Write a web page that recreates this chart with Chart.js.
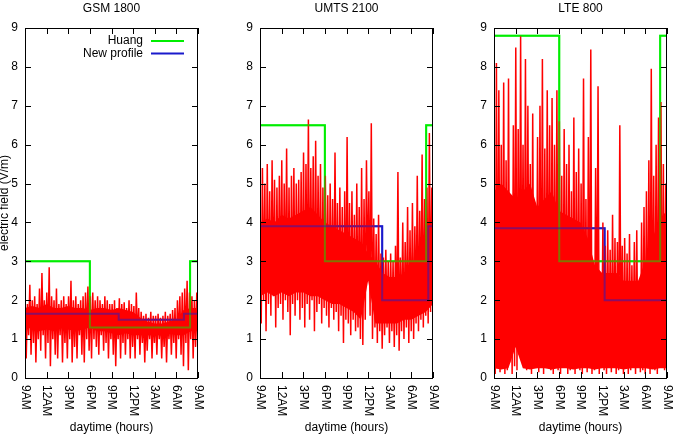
<!DOCTYPE html>
<html>
<head>
<meta charset="utf-8">
<script src="https://cdn.jsdelivr.net/npm/chart.js@4.4.0/dist/chart.umd.min.js"></script>
<style>
  body { margin: 0; background: #fff; overflow: hidden; }
  canvas { position: absolute; top: 0; }
</style>
</head>
<body>
<canvas id="gsm" width="206" height="438" style="left:0px"></canvas>
<canvas id="umts" width="206" height="438" style="left:235px"></canvas>
<canvas id="lte" width="206" height="438" style="left:469px"></canvas>
<script>
const hourTicks = [0, 3, 6, 9, 12, 15, 18, 21, 24];
const hourLabels = ['9AM', '12AM', '3PM', '6PM', '9PM', '12PM', '3AM', '6AM', '9AM'];

// measured field (V/m), 20 minute bins from 9AM: highest and lowest sample of each bin
const gsmHigh = [
  2.2, 1.9, 2.4, 2.0, 2.1, 1.9, 2.3, 2.7, 2.0,
  2.2, 2.85, 2.1, 2.0, 2.3, 1.9, 2.0, 2.1, 1.9,
  2.1, 2.5, 2.0, 2.1, 1.9, 2.0, 2.1, 2.2, 2.35,
  2.1, 2.2, 2.0, 2.1, 2.0, 1.9, 2.1, 2.0, 1.9,
  1.9, 2.0, 1.8, 2.05, 1.9, 1.95, 1.8, 2.0, 1.9,
  1.85, 2.2, 1.8, 1.7, 1.6, 1.65, 1.55, 1.7, 1.6,
  1.6, 1.65, 1.55, 1.6, 1.7, 1.6, 1.65, 1.75, 1.8,
  2.0, 2.1, 2.2, 2.3, 2.5, 2.2, 2.1, 2.0, 2.2
];
const gsmLow = [
  0.5, 1.1, 0.6, 0.9, 0.4, 1.0, 0.7, 1.1, 0.5,
  0.9, 0.3, 1.0, 0.6, 0.5, 1.1, 0.4, 0.9, 0.5,
  1.0, 0.4, 0.8, 0.5, 1.1, 0.6, 0.4, 1.0, 0.7,
  0.5, 1.0, 0.8, 0.6, 1.1, 0.7, 0.9, 0.5, 1.0,
  0.6, 0.3, 1.0, 0.5, 0.9, 0.6, 1.0, 0.5, 0.8,
  0.5, 1.0, 0.6, 0.9, 0.4, 0.7, 1.0, 0.5, 0.9,
  0.6, 1.0, 0.5, 0.8, 0.4, 1.0, 0.6, 0.9, 0.5,
  1.0, 0.6, 0.3, 0.9, 0.2, 1.0, 0.5, 0.8, 0.6
];
// dense part of the trace, hourly from 9AM to 9AM
const gsmCoreTop = [1.8, 1.85, 1.8, 1.9, 1.8, 1.8, 1.85, 1.8, 1.8, 1.75, 1.8, 1.8, 1.75,
  1.8, 1.75, 1.7, 1.55, 1.45, 1.4, 1.4, 1.45, 1.5, 1.75, 1.8, 1.8];
const gsmCoreBottom = [1.25, 1.3, 1.2, 1.25, 1.2, 1.3, 1.25, 1.2, 1.25, 1.3, 1.2, 1.2, 1.15,
  1.1, 1.15, 1.1, 1.1, 1.1, 1.1, 1.1, 1.15, 1.1, 1.1, 1.2, 1.2];
const gsmHuangHours = [0, 9, 22.9, 24];
const gsmHuang = [3.0, 1.3, 3.0, 3.0];
const gsmNewHours = [0, 13, 22.05, 24];
const gsmNew = [1.65, 1.5, 1.65, 1.65];

const umtsHigh = [
  4.6, 5.4, 5.0, 5.5, 4.8, 5.6, 5.1, 4.9, 5.2,
  5.6, 5.0, 5.9, 4.9, 5.2, 5.4, 5.0, 5.1, 5.3,
  5.8, 5.5, 6.65, 5.4, 5.7, 6.1, 5.2, 5.5, 4.9,
  5.2, 4.7, 5.0, 4.6, 5.8, 4.5, 4.9, 4.4, 4.8,
  6.2, 4.5, 4.8, 4.2, 5.0, 4.4, 5.4, 4.6, 5.6,
  4.8, 6.55, 4.1, 3.7, 4.2, 3.2, 3.1, 3.3, 3.0,
  3.2, 3.0, 3.4, 5.3, 3.1, 4.0, 3.5, 4.4, 3.8,
  4.5, 3.9, 5.2, 4.3, 5.75, 4.6, 4.9, 6.3, 4.9
];
const umtsLow = [
  1.4, 2.0, 1.2, 1.9, 1.6, 2.1, 1.3, 1.8, 1.9,
  1.5, 2.0, 1.7, 1.1, 1.9, 1.6, 2.0, 1.5, 1.8,
  1.3, 1.9, 1.5, 2.0, 1.2, 1.7, 1.9, 1.4, 1.8,
  1.6, 1.3, 1.8, 1.5, 1.7, 1.2, 1.6, 0.9, 1.5,
  1.4, 1.1, 1.5, 1.2, 1.3, 1.0, 0.85, 1.5, 2.6,
  1.6, 1.0, 1.3, 0.9, 1.2, 0.75, 1.1, 1.3, 0.9,
  1.2, 0.8, 1.1, 0.7, 1.2, 1.0, 1.3, 0.9, 1.2,
  1.0, 1.4, 1.2, 1.5, 1.3, 1.6, 1.4, 1.7, 1.5
];
const umtsCoreTop = [4.0, 4.1, 4.0, 4.2, 4.1, 4.2, 4.3, 4.4, 4.2, 4.0, 3.9, 3.8, 3.7,
  3.6, 3.5, 3.2, 3.0, 2.7, 2.6, 2.6, 2.7, 2.9, 3.2, 3.5, 3.7];
const umtsCoreBottom = [2.1, 2.2, 2.1, 2.2, 2.1, 2.2, 2.2, 2.1, 2.1, 2.0, 1.9, 1.9, 1.8,
  1.7, 1.5, 2.5, 1.4, 1.4, 1.4, 1.4, 1.5, 1.5, 1.6, 1.7, 1.9];
const umtsHuangHours = [0, 9, 23.05, 24];
const umtsHuang = [6.5, 3.0, 6.5, 6.5];
const umtsNewHours = [0, 16.95, 23.35, 24];
const umtsNew = [3.9, 2.0, 3.9, 3.9];

const lteHigh = [
  6.3, 8.1, 7.4, 6.0, 7.6, 5.6, 7.7, 3.9, 6.5,
  8.5, 6.4, 8.8, 6.0, 8.2, 7.0, 5.5, 6.8, 3.7,
  6.2, 7.0, 8.2, 5.9, 7.4, 6.5, 7.2, 6.0, 7.4,
  6.6, 5.2, 6.4, 5.5, 6.0, 4.8, 6.7, 5.3, 5.9,
  5.0, 7.7, 4.6, 6.2, 8.45, 3.0, 5.4, 7.5, 2.7,
  4.0, 3.4, 3.8, 3.3, 4.2, 3.6, 3.5, 6.5, 3.4,
  3.6, 3.2, 3.7, 2.9, 3.5, 3.8, 2.5, 4.0, 4.4,
  4.8, 5.6, 7.95, 5.2, 6.0, 6.7, 7.1, 5.5, 5.0
];
const lteLow = [
  0.1, 0.3, 0.15, 0.5, 0.1, 0.2, 0.4, 0.1, 0.3,
  0.2, 0.6, 1.0, 0.7, 0.2, 0.5, 0.1, 0.3, 0.6,
  0.15, 0.4, 0.1, 0.3, 0.7, 0.2, 0.1, 0.4, 0.2,
  0.1, 0.3, 0.5, 0.1, 0.2, 0.4, 0.1, 0.6, 0.2,
  0.1, 0.3, 0.15, 0.4, 0.1, 0.2, 0.5, 0.1, 0.3,
  0.2, 0.1, 0.4, 0.15, 0.3, 0.1, 0.2, 0.5, 0.1,
  0.3, 0.1, 0.2, 0.4, 0.1, 0.3, 0.15, 0.2, 0.1,
  0.3, 0.1, 0.4, 0.2, 0.1, 0.3, 0.5, 0.2, 0.4
];
const lteCoreTop = [4.8, 5.0, 4.8, 4.6, 4.8, 5.0, 4.4, 4.6, 4.8, 4.3, 4.2, 4.1, 4.0,
  3.6, 2.9, 2.7, 2.7, 2.7, 2.5, 2.5, 2.5, 3.0, 3.6, 4.1, 4.3];
const lteCoreBottom = [0.25, 0.22, 0.25, 0.8, 0.25, 0.22, 0.25, 0.25, 0.22, 0.25, 0.25, 0.22, 0.25,
  0.25, 0.22, 0.25, 0.25, 0.25, 0.22, 0.25, 0.25, 0.25, 0.22, 0.25, 0.25];
const lteHuangHours = [0, 9.05, 23.05, 24];
const lteHuang = [8.8, 3.0, 8.8, 8.8];
const lteNewHours = [0, 15.35, 24];
const lteNew = [3.85, 2.0, 2.0];

const FONT = '"Liberation Sans", Arial, sans-serif';
Chart.defaults.font.family = FONT;
Chart.defaults.font.size = 12;
Chart.defaults.color = '#000';

// the signal swings between the high and low of each bin
function zigzag(high, low) {
    const n = high.length * 2 - 1;
    const pts = [];
    high.forEach((h, i) => {
        pts.push({ x: 24 * (2 * i) / n, y: h });
        pts.push({ x: 24 * (2 * i + 1) / n, y: low[i] });
    });
    return pts;
}

function hourly(values) {
    return values.map((v, i) => ({ x: i * 24 / (values.length - 1), y: v }));
}

function steps(hours, values) {
    return hours.map((x, i) => ({ x: x, y: values[i] }));
}

const gnuplotFrame = {
    id: 'gnuplotFrame',
    afterDatasetsDraw(chart, args, opts) {
        const ctx = chart.ctx;
        const a = chart.chartArea;
        const profiles = chart.data.datasets.filter(ds => ds.stepped);
        // profiles again on top, half strength, so they show through the red
        ctx.save();
        ctx.globalAlpha = 0.5;
        chart.data.datasets.forEach((ds, i) => {
            if (ds.stepped) chart.getDatasetMeta(i).controller.draw();
        });
        ctx.restore();

        ctx.save();
        ctx.strokeStyle = '#000';
        ctx.lineWidth = 1;
        ctx.strokeRect(a.left + 0.5, a.top + 0.5, a.right - a.left - 1, a.bottom - a.top);
        ctx.beginPath();
        const ys = chart.scales.y;
        for (let v = 0; v <= 9; v++) {
            const y = Math.round(ys.getPixelForValue(v)) + 0.5;
            ctx.moveTo(a.left, y); ctx.lineTo(a.left + 6, y);
            ctx.moveTo(a.right, y); ctx.lineTo(a.right - 6, y);
        }
        const xs = chart.scales.x;
        hourTicks.forEach(h => {
            const x = Math.round(xs.getPixelForValue(h)) + 0.5;
            ctx.moveTo(x, a.bottom); ctx.lineTo(x, a.bottom - 6);
            ctx.moveTo(x, a.top); ctx.lineTo(x, a.top + 6);
        });
        ctx.stroke();

        // x tick labels, reading downwards
        ctx.fillStyle = '#000';
        ctx.font = '12px ' + FONT;
        ctx.textAlign = 'left';
        ctx.textBaseline = 'middle';
        hourTicks.forEach((h, i) => {
            ctx.save();
            ctx.translate(xs.getPixelForValue(h), a.bottom + 7);
            ctx.rotate(Math.PI / 2);
            ctx.fillText(hourLabels[i], 0, 0);
            ctx.restore();
        });

        if (opts.legend) {
            profiles.forEach((ds, i) => {
                const y = a.top + 13 + i * 12.5;
                ctx.textAlign = 'right';
                ctx.fillText(ds.label, a.right - 55, y);
                ctx.strokeStyle = ds.borderColor;
                ctx.lineWidth = 2;
                ctx.beginPath();
                ctx.moveTo(a.right - 47, y);
                ctx.lineTo(a.right - 14, y);
                ctx.stroke();
            });
        }
        ctx.restore();
    }
};

function plotPanel(id, title, high, low, coreTop, coreBottom, huangHours, huang, newHours, newProfile, showYTitle, showLegend) {
    const ctx = document.getElementById(id).getContext('2d');
    new Chart(ctx, {
        type: 'line',
        data: {
            datasets: [{
                label: 'measured',
                data: zigzag(high, low),
                borderColor: '#ff0000',
                borderWidth: 1.5,
                borderJoinStyle: 'bevel',
                pointRadius: 0,
            }, {
                label: 'measured core',
                data: hourly(coreTop),
                borderColor: 'rgba(0,0,0,0)',
                borderWidth: 0,
                backgroundColor: '#ff0000',
                fill: '+1',
                pointRadius: 0,
            }, {
                label: 'measured core bottom',
                data: hourly(coreBottom),
                borderColor: 'rgba(0,0,0,0)',
                borderWidth: 0,
                fill: false,
                pointRadius: 0,
            }, {
                label: 'Huang',
                data: steps(huangHours, huang),
                borderColor: '#00ee00',
                borderWidth: 2,
                stepped: true,
                pointRadius: 0,
            }, {
                label: 'New profile',
                data: steps(newHours, newProfile),
                borderColor: '#1a1acc',
                borderWidth: 2,
                stepped: true,
                pointRadius: 0,
            }]
        },
        options: {
            responsive: false,
            animation: false,
            layout: { padding: { right: 8 } },
            plugins: {
                legend: { display: false },
                tooltip: { enabled: false },
                title: {
                    display: true,
                    text: title,
                    fullSize: false,
                    padding: { top: 1, bottom: 12.6 },
                    font: { size: 12, weight: 'normal' },
                    color: '#000'
                },
                gnuplotFrame: { legend: showLegend }
            },
            scales: {
                x: {
                    type: 'linear',
                    min: 0,
                    max: 24,
                    ticks: { display: false, stepSize: 3 },
                    grid: { display: false, drawTicks: false },
                    border: { display: false },
                    title: {
                        display: true,
                        text: 'daytime (hours)',
                        padding: { top: 0, bottom: 3 },
                        color: '#000'
                    },
                    afterFit: s => { s.height = 60; }
                },
                y: {
                    min: 0,
                    max: 9,
                    ticks: { stepSize: 1, padding: 7, color: '#000' },
                    grid: { display: false, drawTicks: false },
                    border: { display: false },
                    title: {
                        display: showYTitle,
                        text: 'electric field (V/m)',
                        padding: { top: -3, bottom: 0 },
                        color: '#000'
                    },
                    afterFit: s => { s.width = 25; }
                }
            }
        },
        plugins: [gnuplotFrame]
    });
}

plotPanel('gsm', 'GSM 1800', gsmHigh, gsmLow, gsmCoreTop, gsmCoreBottom,
    gsmHuangHours, gsmHuang, gsmNewHours, gsmNew, true, true);
plotPanel('umts', 'UMTS 2100', umtsHigh, umtsLow, umtsCoreTop, umtsCoreBottom,
    umtsHuangHours, umtsHuang, umtsNewHours, umtsNew, false, false);
plotPanel('lte', 'LTE 800', lteHigh, lteLow, lteCoreTop, lteCoreBottom,
    lteHuangHours, lteHuang, lteNewHours, lteNew, false, false);
</script>
</body>
</html>
